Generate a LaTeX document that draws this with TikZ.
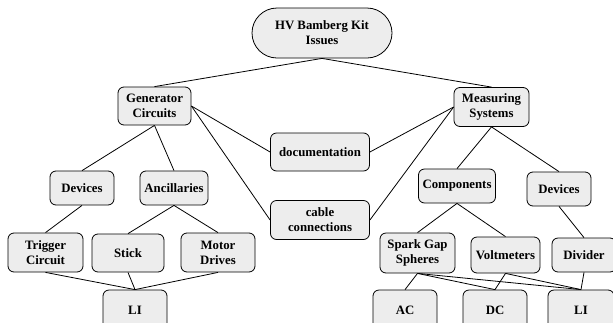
\documentclass[tikz,border=0pt]{standalone}
\usepackage{fontspec}
\setmainfont{Liberation Serif}
\begin{document}
\begin{tikzpicture}[x=1pt,y=-1pt,
  box/.style={draw=black, line width=0.8pt, fill=boxgray, rounded corners=6pt,
    align=center, inner sep=0pt, font=\fontsize{12.8}{15}\selectfont\bfseries},
  conn/.style={draw=black, line width=0.8pt}]
\definecolor{boxgray}{HTML}{EDEDED}
\useasboundingbox (0,0) rectangle (613,322);
\clip (0,0) rectangle (613,322);
\node[box, rounded corners=25pt, minimum width=140pt, minimum height=50pt] (root) at (322,33) {HV Bamberg Kit\\Issues};
\node[box, minimum width=73pt, minimum height=38pt] (gen) at (154.5,106) {Generator\\Circuits};
\node[box, minimum width=75pt, minimum height=39pt] (meas) at (491.5,107) {Measuring\\Systems};
\node[box, minimum width=99pt, minimum height=38pt] (doc) at (320,152) {documentation};
\node[box, minimum width=99pt, minimum height=39pt] (cable) at (320,220) {cable\\connections};
\node[box, minimum width=64pt, minimum height=34pt] (dev1) at (82,188) {Devices};
\node[box, minimum width=68pt, minimum height=34pt] (anc) at (174,188) {Ancillaries};
\node[box, minimum width=77pt, minimum height=34pt] (comp) at (457,186) {Components};
\node[box, minimum width=64pt, minimum height=34pt] (dev2) at (559,189) {Devices};
\node[box, minimum width=75pt, minimum height=39pt] (trig) at (45.5,252.5) {Trigger\\Circuit};
\node[box, minimum width=72pt, minimum height=38pt] (stick) at (128,253) {Stick};
\node[box, minimum width=74pt, minimum height=39pt] (motor) at (218,252.5) {Motor\\Drives};
\node[box, minimum width=75pt, minimum height=40pt] (spark) at (417.5,253) {Spark Gap\\Spheres};
\node[box, minimum width=69pt, minimum height=36pt] (volt) at (505.5,255) {Voltmeters};
\node[box, minimum width=64pt, minimum height=34pt] (div) at (584,255) {Divider};
\node[box, minimum width=64pt, minimum height=40pt] (li1) at (135,310) {LI};
\node[box, minimum width=64pt, minimum height=40pt] (ac) at (405,310) {AC};
\node[box, minimum width=64pt, minimum height=40pt] (dc) at (495,310) {DC};
\node[box, minimum width=66pt, minimum height=40pt] (li2) at (581,310) {LI};
\draw[conn] (root.south) -- (gen.north);
\draw[conn] (root.south) -- (meas.north);
\draw[conn] (gen.east) -- (doc.west);
\draw[conn] (gen.east) -- (cable.west);
\draw[conn] (meas.west) -- (doc.east);
\draw[conn] (meas.west) -- (cable.east);
\draw[conn] (gen.south) -- (dev1.north);
\draw[conn] (gen.south) -- (anc.north);
\draw[conn] (meas.south) -- (comp.north);
\draw[conn] (meas.south) -- (dev2.north);
\draw[conn] (dev1.south) -- (trig.north);
\draw[conn] (anc.south) -- (stick.north);
\draw[conn] (anc.south) -- (motor.north);
\draw[conn] (comp.south) -- (spark.north);
\draw[conn] (comp.south) -- (volt.north);
\draw[conn] (dev2.south) -- (div.north);
\draw[conn] (trig.south) -- (li1.north);
\draw[conn] (stick.south) -- (li1.north);
\draw[conn] (motor.south) -- (li1.north);
\draw[conn] (spark.south) -- (ac.north);
\draw[conn] (spark.south) -- (dc.north);
\draw[conn] (spark.south) -- (li2.north);
\draw[conn] (volt.south) -- (dc.north);
\draw[conn] (volt.south) -- (li2.north);
\draw[conn] (div.south) -- (li2.north);
\end{tikzpicture}
\end{document}
